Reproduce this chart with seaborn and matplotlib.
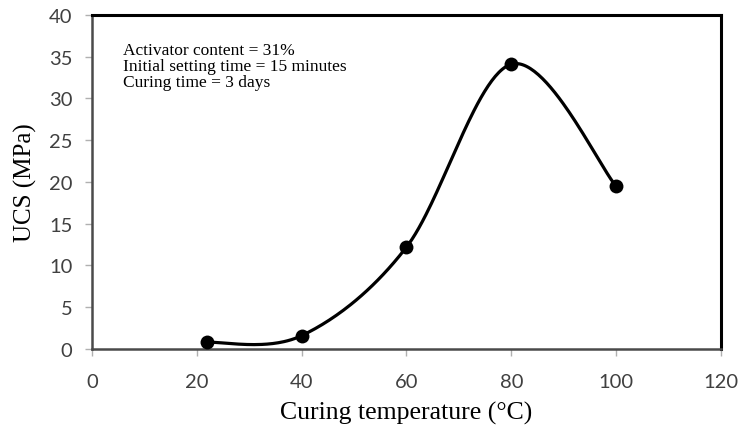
import numpy as np
import pandas as pd
import matplotlib
matplotlib.use("Agg")
import matplotlib.pyplot as plt
import seaborn as sns

# Data
temperature = [22, 40, 60, 80, 100]
ucs = [0.8, 1.6, 12.2, 34.1, 19.5]
x_ticks = [0, 20, 40, 60, 80, 100, 120]
y_ticks = [0, 5, 10, 15, 20, 25, 30, 35, 40]
notes = ["Activator content = 31%",
         "Initial setting time = 15 minutes",
         "Curing time = 3 days"]


def smooth_curve(xs, ys, n=60):
    """Excel-style smoothed line: cubic Bezier with Catmull-Rom control points."""
    P = np.column_stack([xs, ys]).astype(float)
    ext = np.vstack([P[0], P, P[-1]])
    out = []
    t = np.linspace(0, 1, n)[:, None]
    for i in range(len(P) - 1):
        p0, p1, p2, p3 = ext[i], ext[i + 1], ext[i + 2], ext[i + 3]
        b0 = p1
        b1 = p1 + (p2 - p0) / 6.0
        b2 = p2 - (p3 - p1) / 6.0
        b3 = p2
        seg = ((1 - t) ** 3) * b0 + 3 * ((1 - t) ** 2) * t * b1 + 3 * (1 - t) * t ** 2 * b2 + t ** 3 * b3
        out.append(seg if i == 0 else seg[1:])
    return np.vstack(out)


sns.set_theme(style="white")
plt.rcParams['font.family'] = ['DejaVu Sans']

fig = plt.figure(figsize=(7.39, 4.39), dpi=100)
ax = fig.add_axes([0.1245, 0.2027, 0.851, 0.761])

curve = smooth_curve(temperature, ucs)
curve_df = pd.DataFrame({"x": curve[:, 0], "y": curve[:, 1]})
pts_df = pd.DataFrame({"Curing temperature": temperature, "UCS": ucs})

sns.lineplot(data=curve_df, x="x", y="y", ax=ax, color="black", linewidth=2.3,
             sort=False, estimator=None, zorder=2)
sns.scatterplot(data=pts_df, x="Curing temperature", y="UCS", ax=ax, color="black",
                s=100, edgecolor="black", linewidth=0, zorder=3)

ax.set_xlim(0, 120)
ax.set_ylim(0, 40)
ax.set_xticks(x_ticks)
ax.set_yticks(y_ticks)
ax.set_xticklabels([str(v) for v in x_ticks], fontfamily="Lato", fontsize=14.5, color="#404040")
ax.set_yticklabels([str(v) for v in y_ticks], fontfamily="Lato", fontsize=14.5, color="#404040")
ax.tick_params(axis="both", which="major", direction="out", length=5, width=1,
               color="#b0b0b0", bottom=True, left=True)
ax.tick_params(axis="y", pad=9)
ax.tick_params(axis="x", pad=12)

ax.set_xlabel("Curing temperature (°C)", fontfamily="Liberation Serif", fontsize=18.5,
              color="black", labelpad=8)
ax.set_ylabel("UCS (MPa)", fontfamily="Liberation Serif", fontsize=18,
              color="black", labelpad=9)

for side in ["left", "bottom"]:
    ax.spines[side].set_color("#4a4a4a")
    ax.spines[side].set_linewidth(1.8)
    ax.spines[side].set_visible(True)
for side in ["top", "right"]:
    ax.spines[side].set_color("black")
    ax.spines[side].set_linewidth(2.2)
    ax.spines[side].set_visible(True)

ax.text(0.05, 0.918, "\n".join(notes), transform=ax.transAxes, va="top", ha="left",
        fontfamily="Liberation Serif", fontsize=12.5, color="black", linespacing=1.0)

fig.savefig("out.png", dpi=100)
